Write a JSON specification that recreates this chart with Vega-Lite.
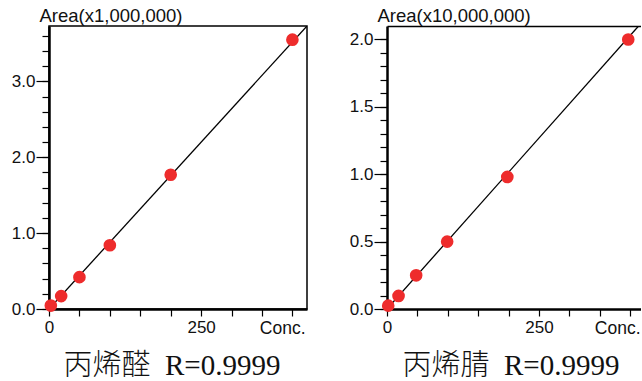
{
  "$schema": "https://vega.github.io/schema/vega-lite/v6.json",
  "padding": {"left": 10, "top": 5, "right": 0, "bottom": 0},
  "spacing": 41,
  "background": "white",
  "config": {
    "font": "Liberation Sans",
    "view": {"stroke": "black", "strokeWidth": 1.5},
    "axis": {
      "domainColor": "black", "domainWidth": 2.5,
      "tickColor": "black", "tickWidth": 1.2,
      "labelColor": "#111", "labelFont": "Liberation Sans", "labelFontSize": 17,
      "labelOverlap": false, "labelFlush": false, "labelBound": false,
      "grid": false,
      "titleFont": "Liberation Sans", "titleFontSize": 17.5, "titleFontWeight": "normal", "titleColor": "#111"
    }
  },
  "datasets": {
    "a": [
      {"conc": 3, "area": 0.045},
      {"conc": 20, "area": 0.17},
      {"conc": 50, "area": 0.42},
      {"conc": 100, "area": 0.84},
      {"conc": 200, "area": 1.77},
      {"conc": 400, "area": 3.55}
    ],
    "la": [
      {"conc": 0, "area": 0.0},
      {"conc": 424, "area": 3.73}
    ],
    "b": [
      {"conc": 2, "area": 0.025},
      {"conc": 19, "area": 0.097},
      {"conc": 48, "area": 0.25},
      {"conc": 99, "area": 0.5},
      {"conc": 198, "area": 0.98},
      {"conc": 397, "area": 2.0}
    ],
    "lb": [
      {"conc": 0, "area": 0.0},
      {"conc": 414, "area": 2.1}
    ]
  },
  "hconcat": [
    {
      "width": 258,
      "height": 283,
      "title": {"text": "丙烯醛\u00a0\u00a0R=0.9999", "orient": "bottom", "anchor": "middle", "frame": "group", "font": "Liberation Serif, Noto Sans CJK SC", "fontSize": 29, "fontWeight": 300, "offset": 15, "color": "#111", "dx": -6},
      "layer": [
        {
          "data": {"name": "la"},
          "mark": {"type": "line", "color": "black", "strokeWidth": 1.3, "clip": true},
          "encoding": {
            "x": {
              "field": "conc", "type": "quantitative",
              "scale": {"domain": [0, 424], "nice": false, "zero": false},
              "axis": {
                "orient": "bottom",
                "values": [0, 50, 100, 150, 200, 250, 300, 350, 400],
                "labelExpr": "datum.value == 0 || datum.value == 250 ? datum.label : ''",
                "tickSize": 7, "labelPadding": 3,
                "title": "Conc.", "titleAnchor": "end", "titleAlign": "right", "titleBaseline": "alphabetic",
                "titleX": 256, "titleY": 24
              }
            },
            "y": {
              "field": "area", "type": "quantitative",
              "scale": {"domain": [0, 3.73], "nice": false, "zero": false},
              "axis": {
                "orient": "left",
                "values": [0, 1, 2, 3],
                "format": ".1f",
                "tickSize": 13,
                "labelPadding": 1,
                "title": "Area(x1,000,000)", "titleAngle": 0, "titleAlign": "left", "titleBaseline": "alphabetic",
                "titleX": -10, "titleY": -4.5, "titleFontSize": 18.5
              }
            }
          }
        },
        {
          "data": {"name": "a"},
          "mark": {"type": "circle", "size": 160, "color": "#ee2c2c", "opacity": 1},
          "encoding": {
            "x": {
              "field": "conc", "type": "quantitative",
              "scale": {"domain": [0, 424], "nice": false, "zero": false},
              "axis": {
                "orient": "bottom",
                "values": [0, 50, 100, 150, 200, 250, 300, 350, 400],
                "labelExpr": "datum.value == 0 || datum.value == 250 ? datum.label : ''",
                "tickSize": 7, "labelPadding": 3,
                "title": "Conc.", "titleAnchor": "end", "titleAlign": "right", "titleBaseline": "alphabetic",
                "titleX": 256, "titleY": 24
              }
            },
            "y": {
              "field": "area", "type": "quantitative",
              "axis": {
                "orient": "left",
                "values": [0, 0.2, 0.4, 0.6, 0.8, 1, 1.2, 1.4, 1.6, 1.8, 2, 2.2, 2.4, 2.6, 2.8, 3, 3.2, 3.4, 3.6],
                "labels": false, "domain": false, "tickSize": 7, "title": null
              }
            }
          }
        }
      ],
      "resolve": {"axis": {"y": "independent"}}
    },
    {
      "width": 254,
      "height": 283,
      "view": {"stroke": null},
      "title": {"text": "丙烯腈\u00a0\u00a0R=0.9999", "orient": "bottom", "anchor": "middle", "frame": "group", "font": "Liberation Serif, Noto Sans CJK SC", "fontSize": 29, "fontWeight": 300, "offset": 15, "color": "#111", "dx": -3},
      "layer": [
        {
          "data": {"name": "lb"},
          "mark": {"type": "line", "color": "black", "strokeWidth": 1.3, "clip": true},
          "encoding": {
            "x": {
              "field": "conc", "type": "quantitative",
              "scale": {"domain": [0, 418], "nice": false, "zero": false},
              "axis": {"orient": "top", "labels": false, "ticks": false, "domain": true, "domainWidth": 1.5, "title": null}
            },
            "y": {
              "field": "area", "type": "quantitative",
              "scale": {"domain": [0, 2.1], "nice": false, "zero": false},
              "axis": {
                "orient": "left",
                "values": [0, 0.5, 1, 1.5, 2],
                "format": ".1f",
                "tickSize": 13,
                "labelPadding": 1,
                "title": "Area(x10,000,000)", "titleAngle": 0, "titleAlign": "left", "titleBaseline": "alphabetic",
                "titleX": -10, "titleY": -4.5, "titleFontSize": 18.5
              }
            }
          }
        },
        {
          "data": {"name": "b"},
          "mark": {"type": "circle", "size": 160, "color": "#ee2c2c", "opacity": 1},
          "encoding": {
            "x": {
              "field": "conc", "type": "quantitative",
              "axis": {
                "orient": "bottom",
                "values": [0, 50, 100, 150, 200, 250, 300, 350, 400],
                "labelExpr": "datum.value == 0 || datum.value == 250 ? datum.label : ''",
                "tickSize": 7, "labelPadding": 3,
                "title": "Conc.", "titleAnchor": "end", "titleAlign": "right", "titleBaseline": "alphabetic",
                "titleX": 253, "titleY": 24
              }
            },
            "y": {
              "field": "area", "type": "quantitative",
              "axis": {
                "orient": "left",
                "values": [0, 0.1, 0.2, 0.3, 0.4, 0.5, 0.6, 0.7, 0.8, 0.9, 1, 1.1, 1.2, 1.3, 1.4, 1.5, 1.6, 1.7, 1.8, 1.9, 2],
                "labels": false, "domain": false, "tickSize": 7, "title": null
              }
            }
          }
        }
      ],
      "resolve": {"axis": {"x": "independent", "y": "independent"}}
    }
  ]
}
